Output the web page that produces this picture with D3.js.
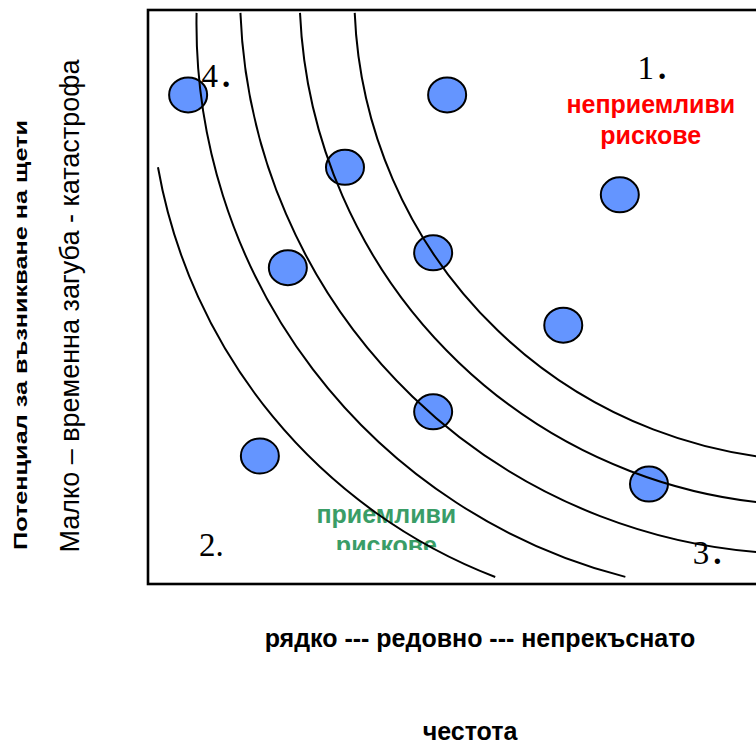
<!DOCTYPE html>
<html>
<head>
<meta charset="utf-8">
<script src="https://cdn.jsdelivr.net/npm/d3@7"></script>
<style>
  html, body { margin: 0; padding: 0; background: #fff; }
  svg { display: block; }
</style>
</head>
<body>
<svg id="chart" width="756" height="747"></svg>
<script>
// ---- data (0..100 scale on both axes) ----
const pointX = [6.6, 49.2, 32.4, 77.6, 23.0, 46.9, 68.3, 46.9, 18.4, 82.4];
const pointY = [85.2, 85.2, 72.6, 67.8, 55.1, 57.7, 45.1, 30.0, 22.3, 17.4];

// risk contour arcs: centre, start point, end point (data units)
const arcCenterX = [89.0, 101.9, 107.7, 109.7, 110.7];
const arcCenterY = [88.9, 97.6, 103.3, 103.5, 102.8];
const arcStartX  = [1.64, 7.99, 15.2, 25.0, 34.0];
const arcStartY  = [72.6, 99.5, 99.5, 99.5, 99.5];
const arcEndX    = [57.1, 78.5, 107.7, 109.7, 110.7];
const arcEndY    = [1.2, 1.2, -20, -20, -20];

const cornerDigits = ["1", "2", "3", "4"];
const cornerX = [80.5, 8.4, 89.6, 8.8];
const cornerY = [88.0, 4.9, 3.5, 86.6];

const riskHigh = ["неприемливи", "рискове"];
const riskLow = ["приемливи", "рискове"];
const xTickText = "рядко --- редовно --- непрекъснато";
const xTitle = "честота";
const yTitle = "Потенциал за възникване на щети";
const yScaleText = "Малко – временна загуба - катастрофа";

// ---- layout ----
const svg = d3.select("#chart");
const padL = 148, padT = 10, padB = 584, padR = 756;
const x = d3.scaleLinear().domain([0, 100]).range([padL, padR]);
const y = d3.scaleLinear().domain([0, 100]).range([padB, padT]);
const SANS = "Liberation Sans, Arial, sans-serif";

const defs = svg.append("defs");
defs.append("clipPath").attr("id", "plotClip")
  .append("rect").attr("x", padL).attr("y", padT).attr("width", 800).attr("height", padB - padT);
defs.append("clipPath").attr("id", "greenClip")
  .append("rect").attr("x", 0).attr("y", 0).attr("width", 756).attr("height", 550);

const plot = svg.append("g").attr("clip-path", "url(#plotClip)");

// points
plot.selectAll("ellipse.pt")
  .data(pointX.map((d, i) => [d, pointY[i]]))
  .join("ellipse")
  .attr("class", "pt")
  .attr("cx", d => x(d[0]))
  .attr("cy", d => y(d[1]))
  .attr("rx", 19)
  .attr("ry", 17.5)
  .attr("fill", "#6495ff")
  .attr("stroke", "#000")
  .attr("stroke-width", 2);

// green text (under arcs, clipped at the bottom)
const g2 = plot.append("g").attr("clip-path", "url(#greenClip)");
g2.selectAll("text")
  .data(riskLow)
  .join("text")
  .attr("x", x(39.2))
  .attr("y", (d, i) => 523 + i * 31)
  .attr("text-anchor", "middle")
  .attr("font-family", SANS)
  .attr("font-weight", "bold")
  .attr("font-size", 25)
  .attr("fill", "#3a9d67")
  .text(d => d);

// arcs
const arcData = arcCenterX.map((cx, i) => ({
  cx: x(cx), cy: y(arcCenterY[i]),
  sx: x(arcStartX[i]), sy: y(arcStartY[i]),
  ex: x(arcEndX[i]), ey: y(arcEndY[i])
}));
function arcPath(d) {
  const r = Math.hypot(d.sx - d.cx, d.sy - d.cy);
  const a0 = Math.atan2(d.sy - d.cy, d.sx - d.cx);
  const a1 = Math.atan2(d.ey - d.cy, d.ex - d.cx);
  const p = d3.path();
  p.moveTo(d.sx, d.sy);
  p.arc(d.cx, d.cy, r, a0, a1, true);
  return p.toString();
}
plot.selectAll("path.arc")
  .data(arcData)
  .join("path")
  .attr("class", "arc")
  .attr("d", arcPath)
  .attr("fill", "none")
  .attr("stroke", "#000")
  .attr("stroke-width", 2);

// frame
svg.append("rect")
  .attr("x", padL).attr("y", padT)
  .attr("width", 800).attr("height", padB - padT)
  .attr("fill", "none").attr("stroke", "#000").attr("stroke-width", 2.6);

// corner labels
const corner = svg.selectAll("text.corner")
  .data(cornerDigits)
  .join("text")
  .attr("class", "corner")
  .attr("x", (d, i) => x(cornerX[i]))
  .attr("y", (d, i) => y(cornerY[i]))
  .attr("font-family", "Liberation Serif, Times New Roman, serif")
  .attr("font-size", 33)
  .attr("fill", "#000");
corner.append("tspan").text(d => d);
corner.append("tspan")
  .attr("dx", d => d === "2" ? 0 : 4)
  .attr("font-weight", d => d === "2" ? "normal" : "bold")
  .text(".");

// red text
svg.selectAll("text.red")
  .data(riskHigh)
  .join("text")
  .attr("class", "red")
  .attr("x", x(82.7))
  .attr("y", (d, i) => 113 + i * 31)
  .attr("text-anchor", "middle")
  .attr("font-family", SANS)
  .attr("font-weight", "bold")
  .attr("font-size", 25)
  .attr("fill", "#ff0000")
  .text(d => d);

// x labels
svg.append("text")
  .attr("x", 480).attr("y", 647)
  .attr("text-anchor", "middle")
  .attr("font-family", SANS)
  .attr("font-weight", "bold").attr("font-size", 25)
  .text(xTickText);
svg.append("text")
  .attr("x", 470).attr("y", 740)
  .attr("text-anchor", "middle")
  .attr("font-family", SANS)
  .attr("font-weight", "bold").attr("font-size", 25)
  .text(xTitle);

// y labels
svg.append("text")
  .attr("transform", "translate(27,335) rotate(-90)")
  .attr("text-anchor", "middle")
  .attr("font-family", SANS)
  .attr("font-weight", "bold").attr("font-size", 18)
  .attr("textLength", 430)
  .attr("lengthAdjust", "spacingAndGlyphs")
  .text(yTitle);
svg.append("text")
  .attr("transform", "translate(79,306) rotate(-90)")
  .attr("text-anchor", "middle")
  .attr("font-family", SANS)
  .attr("font-size", 27)
  .text(yScaleText);
</script>
</body>
</html>
